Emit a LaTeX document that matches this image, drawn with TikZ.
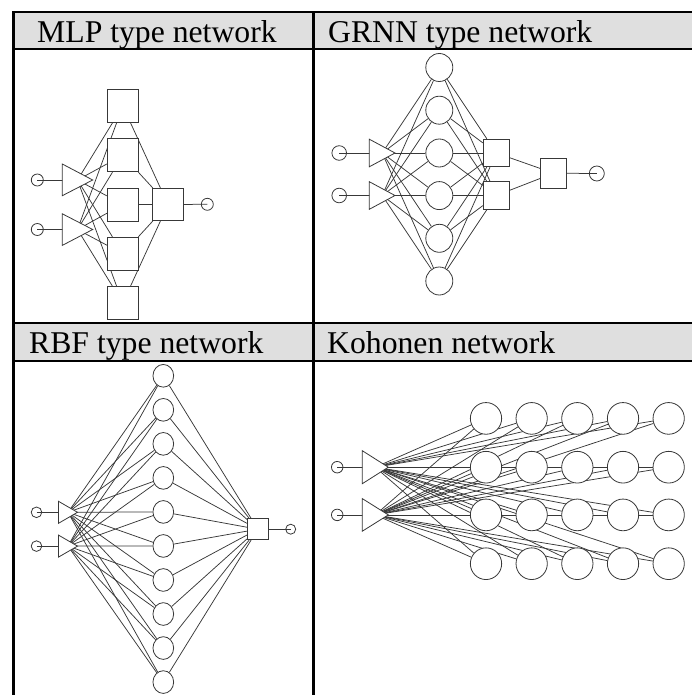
\documentclass[tikz,border=0pt]{standalone}
\usepackage{fontspec}
\setmainfont{Liberation Serif}
\usetikzlibrary{backgrounds,shapes.geometric}
\tikzset{
  net/.style={draw=black!78, line width=0.8pt},
  sq/.style={net, fill=white, rectangle, inner sep=0pt},
  blob/.style={net, fill=white, ellipse, inner sep=0pt},
  pin/.style={net, circle, inner sep=0pt},
  link/.style={draw=black!78, line width=0.75pt},
  tri/.style={net, fill=white, line join=miter},
  grid line/.style={line width=2.4pt, draw=black},
  head/.style={anchor=base west, inner sep=0pt, font=\fontsize{31.7}{38}\selectfont}
}
\begin{document}
\begin{tikzpicture}[x=1pt,y=-1pt]
\useasboundingbox (0,0) rectangle (692,695);
\clip (0,0) rectangle (692,695);
% ---------------- table ----------------
\fill[gray!25] (13.3,12.3) rectangle (710,49.3);
\fill[gray!25] (13.3,322.7) rectangle (710,361);
\draw[grid line] (13.3,720) -- (13.3,12.3) -- (710,12.3);
\draw[grid line] (13.3,49.3) -- (710,49.3);
\draw[grid line] (13.3,322.7) -- (710,322.7);
\draw[grid line] (13.3,361) -- (710,361);
\draw[grid line] (313.3,12.3) -- (313.3,720);
\node[head] (tMLP) at (37,42.7) {MLP type network};
\node[head] (tGRNN) at (328,42.7) {GRNN type network};
\node[head] (tRBF) at (29,353) {RBF type network};
\node[head] (tKOH) at (327,353) {Kohonen network};

% ---------------- MLP ----------------
\node[pin, minimum size=12] (ma1) at (37.3,180) {};
\node[pin, minimum size=12] (ma2) at (37.3,229.5) {};
\draw[tri] (62.3,164) -- (92.7,180) -- (62.3,195.7) -- cycle;
\draw[tri] (62.3,213.8) -- (92.7,229.5) -- (62.3,245.4) -- cycle;
\coordinate (mt1) at (77.5,180);
\coordinate (mt2) at (77.5,229.5);
\foreach \i/\y in {1/106,2/155.3,3/204.5,4/253.7,5/303}
  \node[sq, minimum width=31, minimum height=33] (mh\i) at (122.8,\y) {};
\node[sq, minimum width=30.6, minimum height=32.4] (mo) at (168,204.5) {};
\node[pin, minimum size=12] (mout) at (207.3,204.3) {};

% ---------------- GRNN ----------------
\node[pin, minimum size=14.6] (ga1) at (339.2,153) {};
\node[pin, minimum size=14.6] (ga2) at (339.2,195.5) {};
\draw[tri] (369.3,139.2) -- (395,153) -- (369.3,166.8) -- cycle;
\draw[tri] (369.3,181.7) -- (395,195.5) -- (369.3,209.3) -- cycle;
\coordinate (gt1) at (382.2,153);
\coordinate (gt2) at (382.2,195.5);
\foreach \i/\y in {1/67.5,2/110.2,3/153,4/195.6,5/238.3,6/281}
  \node[blob, minimum width=27, minimum height=28] (gh\i) at (439.3,\y) {};
\node[sq, minimum width=26, minimum height=27.7] (gs1) at (496.3,153) {};
\node[sq, minimum width=26, minimum height=27.7] (gs2) at (496.3,195.5) {};
\node[sq, minimum width=26, minimum height=29.7] (gq) at (553.7,173.2) {};
\node[pin, minimum size=15] (gout) at (596.8,173.5) {};

% ---------------- RBF ----------------
\node[pin, minimum size=10.6] (ra1) at (36.5,512.3) {};
\node[pin, minimum size=10.6] (ra2) at (36.5,546.1) {};
\draw[tri] (58.5,501.3) -- (77.5,512.3) -- (58.5,523.3) -- cycle;
\draw[tri] (58.5,535.1) -- (77.5,546.1) -- (58.5,557.1) -- cycle;
\coordinate (rt1) at (68,512.3);
\coordinate (rt2) at (68,546.1);
\foreach \i in {1,...,10}
  \node[blob, minimum width=20.7, minimum height=22.7] (rh\i) at (163.3,{375.8+34.03*(\i-1)}) {};
\node[sq, minimum size=21] (ro) at (257.8,529.2) {};
\node[pin, minimum size=10] (rout) at (290.7,529.2) {};

% ---------------- Kohonen ----------------
\node[pin, minimum size=11.5] (ka1) at (337.2,467.2) {};
\node[pin, minimum size=11.5] (ka2) at (337.2,514.9) {};
\draw[tri] (362.3,450.7) -- (388.3,467.2) -- (362.3,483.7) -- cycle;
\draw[tri] (362.3,498.6) -- (388.3,514.9) -- (362.3,531.2) -- cycle;
\coordinate (kt1) at (375.3,467.2);
\coordinate (kt2) at (375.3,514.9);
\foreach \r/\y in {1/418.4,2/467.2,3/514.9,4/563.7}
  \foreach \c in {1,...,5}
    \node[blob, minimum width=31.3, minimum height=31.7] (k\r\c) at ({486+45.67*(\c-1)},\y) {};

% ---------------- connectors ----------------
\begin{pgfonlayer}{background}
  % MLP
  \foreach \t in {1,2} {
    \draw[link] (ma\t.center) -- (mt\t);
    \foreach \i in {1,...,5} \draw[link] (mt\t) -- (mh\i);
  }
  \foreach \i in {1,...,5} \draw[link] (mh\i) -- (mo);
  \draw[link] (mo) -- (mout.center);
  % GRNN
  \foreach \t in {1,2} {
    \draw[link] (ga\t.center) -- (gt\t);
    \foreach \i in {1,...,6} \draw[link] (gt\t) -- (gh\i);
  }
  \foreach \i in {1,...,6} {
    \draw[link] (gh\i) -- (gs1);
    \draw[link] (gh\i) -- (gs2);
  }
  \draw[link] (gs1) -- (gq);
  \draw[link] (gs2) -- (gq);
  \draw[link] (gq) -- (gout.center);
  % RBF
  \foreach \t in {1,2} {
    \draw[link] (ra\t.center) -- (rt\t);
    \foreach \i in {1,...,10} \draw[link] (rt\t) -- (rh\i);
  }
  \foreach \i in {1,...,10} \draw[link] (rh\i) -- (ro);
  \draw[link] (ro) -- (rout.center);
  % Kohonen
  \foreach \t in {1,2} {
    \draw[link] (ka\t.center) -- (kt\t);
    \foreach \r in {1,...,4}
      \foreach \c in {1,...,5}
        \draw[link] (kt\t) -- (k\r\c);
  }
\end{pgfonlayer}
\end{tikzpicture}
\end{document}
